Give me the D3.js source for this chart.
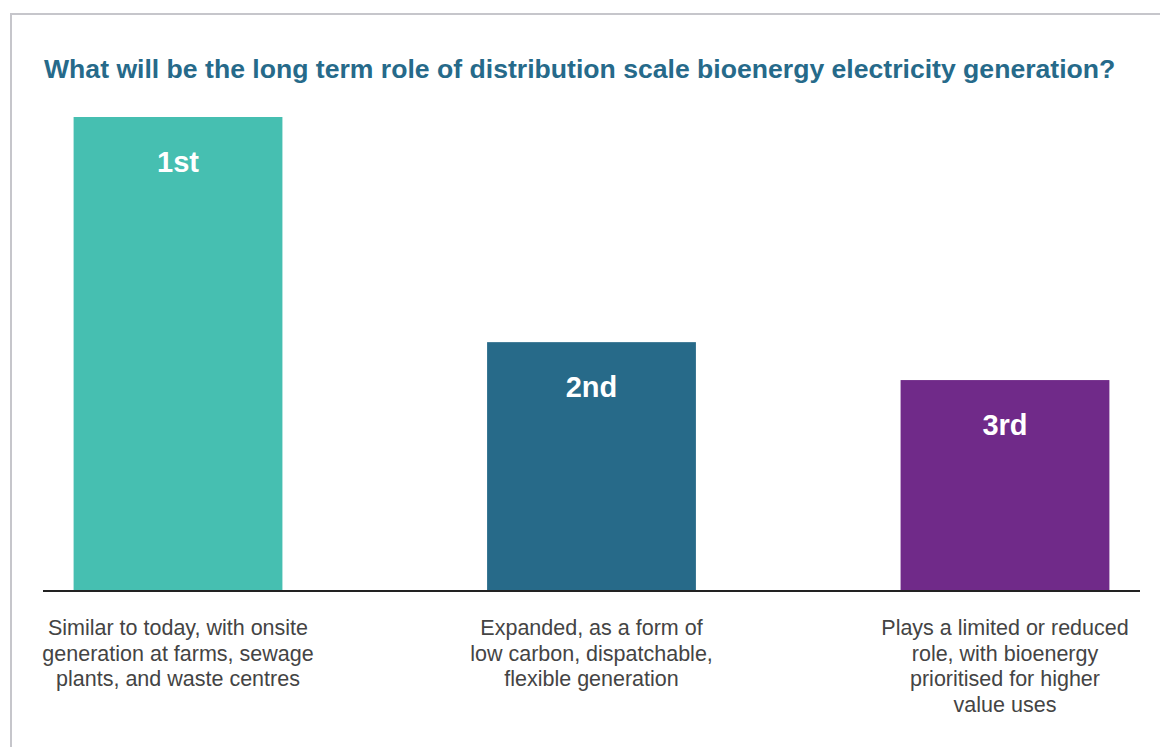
<!DOCTYPE html>
<meta charset="utf-8">
<script src="https://d3js.org/d3.v7.min.js"></script>
<style>
  body { margin: 0; background: #fff; }
  text { font-family: "Liberation Sans", Arial, Helvetica, sans-serif; }
</style>
<div id="chart"></div>
<script>
// data (bar height in % of the tallest bar)
var categories = ["Similar to today, with onsite generation at farms, sewage plants, and waste centres",
                  "Expanded, as a form of low carbon, dispatchable, flexible generation",
                  "Plays a limited or reduced role, with bioenergy prioritised for higher value uses"];
var labelLines = [
  ["Similar to today, with onsite", "generation at farms, sewage", "plants, and waste centres"],
  ["Expanded, as a form of", "low carbon, dispatchable,", "flexible generation"],
  ["Plays a limited or reduced", "role, with bioenergy", "prioritised for higher", "value uses"]
];
var ranks = ["1st", "2nd", "3rd"];
var values = [100, 52.5, 44.5];
var colors = ["#46bfb1", "#276a89", "#702a89"];

var width = 1160, height = 747;

var svg = d3.select("#chart")
  .append("svg")
    .attr("width", width)
    .attr("height", height);

// frame
svg.append("rect")
  .attr("x", 11).attr("y", 14)
  .attr("width", width).attr("height", height)
  .attr("fill", "none")
  .attr("stroke", "#c6c6cb")
  .attr("stroke-width", 2);

svg.append("text")
  .attr("x", 44).attr("y", 78)
  .attr("fill", "#266a8a")
  .style("font-size", "26.6px")
  .style("font-weight", "bold")
  .text("What will be the long term role of distribution scale bioenergy electricity generation?");

var x = d3.scaleBand()
  .domain(categories)
  .range([43, 1140])
  .paddingInner(0.495)
  .paddingOuter(0.074);

var y = d3.scaleLinear()
  .domain([0, 100])
  .range([591, 117]);

var bars = svg.selectAll(".bar")
  .data(categories)
  .enter().append("g")
    .attr("class", "bar");

bars.append("rect")
  .attr("x", function(d) { return x(d); })
  .attr("y", function(d, i) { return y(values[i]); })
  .attr("width", x.bandwidth())
  .attr("height", function(d, i) { return y(0) - y(values[i]); })
  .attr("fill", function(d, i) { return colors[i]; });

bars.append("text")
  .attr("x", function(d) { return x(d) + x.bandwidth() / 2; })
  .attr("y", function(d, i) { return y(values[i]) + 55; })
  .attr("text-anchor", "middle")
  .attr("fill", "#fff")
  .style("font-size", "29px")
  .style("font-weight", "bold")
  .text(function(d, i) { return ranks[i]; });

// baseline
svg.append("line")
  .attr("x1", 43).attr("x2", 1140)
  .attr("y1", y(0)).attr("y2", y(0))
  .attr("stroke", "#222")
  .attr("stroke-width", 2);

// category labels
bars.append("text")
  .attr("text-anchor", "middle")
  .attr("fill", "#444")
  .style("font-size", "21.5px")
  .selectAll("tspan")
  .data(function(d, i) { return labelLines[i].map(function(l) { return { l: l, cx: x(d) + x.bandwidth() / 2 }; }); })
  .enter().append("tspan")
    .attr("x", function(d) { return d.cx; })
    .attr("y", function(d, j) { return 635 + j * 25.7; })
    .text(function(d) { return d.l; });
</script>
